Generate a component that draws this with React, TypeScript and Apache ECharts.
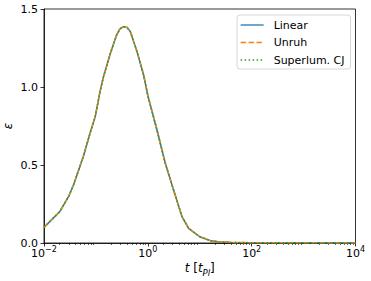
import React, { useEffect, useRef } from "react";
import * as echarts from "echarts";

const tValues = [0.01, 0.02, 0.03, 0.037, 0.057, 0.077, 0.097, 0.12, 0.14, 0.19, 0.25, 0.29, 0.34, 0.4, 0.46, 0.62, 0.83, 1.0, 1.5, 2.17, 3.13, 4.55, 6.1, 10, 16, 25, 40, 100, 1000, 10000];
const epsLinear = [0.10, 0.20, 0.30, 0.372, 0.553, 0.703, 0.81, 0.97, 1.066, 1.216, 1.333, 1.372, 1.387, 1.381, 1.355, 1.226, 1.077, 0.945, 0.724, 0.511, 0.34, 0.169, 0.094, 0.04, 0.015, 0.007, 0.004, 0.002, 0.001, 0.0005];
const epsUnruh = [0.10, 0.20, 0.30, 0.372, 0.553, 0.703, 0.81, 0.97, 1.066, 1.216, 1.333, 1.372, 1.387, 1.381, 1.355, 1.226, 1.077, 0.945, 0.724, 0.511, 0.34, 0.169, 0.094, 0.04, 0.015, 0.007, 0.004, 0.002, 0.001, 0.0005];
const epsSuperlum = [0.10, 0.20, 0.30, 0.372, 0.553, 0.703, 0.81, 0.97, 1.066, 1.216, 1.333, 1.372, 1.387, 1.381, 1.355, 1.226, 1.077, 0.945, 0.724, 0.511, 0.34, 0.169, 0.094, 0.04, 0.015, 0.007, 0.004, 0.002, 0.001, 0.0005];
const seriesNames = ["Linear", "Unruh", "Superlum. CJ"];
const xDecades = [-2, -1, 0, 1, 2, 3];
const minorSubs = [2, 3, 4, 5, 6, 7, 8, 9];

const FONT = "DejaVu Sans";

export default function App() {
  const ref = useRef<HTMLDivElement>(null);
  useEffect(() => {
    if (!ref.current) return;
    const chart = echarts.init(ref.current, null, { renderer: "svg" });
    const toPts = (ys: number[]) => tValues.map((t, i) => [Math.log10(t), ys[i]]);
    const minorTicks: number[] = [];
    xDecades.forEach((d) => minorSubs.forEach((s) => minorTicks.push(d + Math.log10(s))));
    const sup = (v: number) => {
      const s = v < 0 ? "\u2212" + String(-v) : String(v);
      return `{b|10}{s|${s}}`;
    };
    chart.setOption({
      animation: false,
      textStyle: { fontFamily: FONT },
      grid: {
        left: 44, right: 15.5, top: 9, bottom: 38,
        outerBoundsMode: "none",
        containLabel: false,
        show: true, borderColor: "#000", borderWidth: 0.8,
      },
      legend: {
        orient: "vertical",
        left: 237, top: 15,
        itemWidth: 23, itemHeight: 12, itemGap: 5.5,
        padding: [4, 6, 3, 3],
        backgroundColor: "rgba(255,255,255,0.8)",
        borderColor: "#d6d6d6", borderWidth: 1, borderRadius: 3,
        itemStyle: { opacity: 0 },
        lineStyle: { width: 1.3 },
        textStyle: { fontFamily: FONT, fontSize: 11, color: "#000", lineHeight: 12, padding: [0, 0, 0, 5] },
        data: seriesNames,
      },
      xAxis: [
        {
          type: "value", min: -2, max: 4, interval: 2,
          axisLine: { onZero: false, lineStyle: { color: "#000", width: 0.8 } },
          axisTick: { inside: false, length: 3.5, lineStyle: { color: "#000", width: 0.8 } },
          splitLine: { show: false },
          axisLabel: {
            margin: 2, color: "#000", fontFamily: FONT,
            formatter: (v: number) => sup(v),
            rich: {
              b: { fontSize: 11, fontFamily: FONT, color: "#000", lineHeight: 14, verticalAlign: "bottom" },
              s: { fontSize: 8, fontFamily: FONT, color: "#000", lineHeight: 8, verticalAlign: "top" },
            },
          },
          name: "{i|t} {n|[}{i|t}{sub|Pl}{n|]}",
          nameLocation: "middle",
          nameGap: 19,
          nameMoveOverlap: false,
          nameTextStyle: {
            color: "#000",
            rich: {
              i: { fontSize: 12, fontStyle: "italic", fontFamily: FONT, color: "#000", lineHeight: 15, verticalAlign: "top" },
              n: { fontSize: 12, fontFamily: FONT, color: "#000", lineHeight: 15, verticalAlign: "top" },
              sub: { fontSize: 8.5, fontStyle: "italic", fontFamily: FONT, color: "#000", lineHeight: 9, verticalAlign: "bottom" },
            },
          },
        },
        {
          type: "value", min: -2, max: 4, position: "bottom",
          axisLine: { show: false, onZero: false },
          axisLabel: { show: false },
          splitLine: { show: false },
          axisTick: { show: true, length: 2, customValues: minorTicks, lineStyle: { color: "#000", width: 0.6 } },
        },
      ],
      yAxis: {
        type: "value", min: 0, max: 1.5, interval: 0.5,
        axisLine: { show: true, onZero: false, lineStyle: { color: "#000", width: 0.8 } },
        axisTick: { show: true, length: 3.5, lineStyle: { color: "#000", width: 0.8 } },
        splitLine: { show: false },
        axisLabel: { margin: 6, color: "#000", fontSize: 11, fontFamily: FONT, formatter: (v: number) => v.toFixed(1) },
        name: "ε",
        nameLocation: "middle",
        nameRotate: 90,
        nameGap: 30,
        nameMoveOverlap: false,
        nameTextStyle: { color: "#000", fontSize: 12, fontStyle: "italic", fontFamily: FONT },
      },
      series: [
        {
          name: seriesNames[0], type: "line", data: toPts(epsLinear), showSymbol: false, symbol: "none",
          lineStyle: { color: "#1f77b4", width: 1.5 }, itemStyle: { color: "#1f77b4" },
        },
        {
          name: seriesNames[1], type: "line", data: toPts(epsUnruh), showSymbol: false, symbol: "none",
          lineStyle: { color: "#ff7f0e", width: 1.5, type: [5.5, 2.4] }, itemStyle: { color: "#ff7f0e" },
        },
        {
          name: seriesNames[2], type: "line", data: toPts(epsSuperlum), showSymbol: false, symbol: "none",
          lineStyle: { color: "#2ca02c", width: 1.5, type: [1.5, 2.5] }, itemStyle: { color: "#2ca02c" },
        },
      ],
    });
    return () => chart.dispose();
  }, []);
  return <div ref={ref} style={{ width: 371, height: 281, position: "absolute", left: 0, top: 0 }} />;
}
